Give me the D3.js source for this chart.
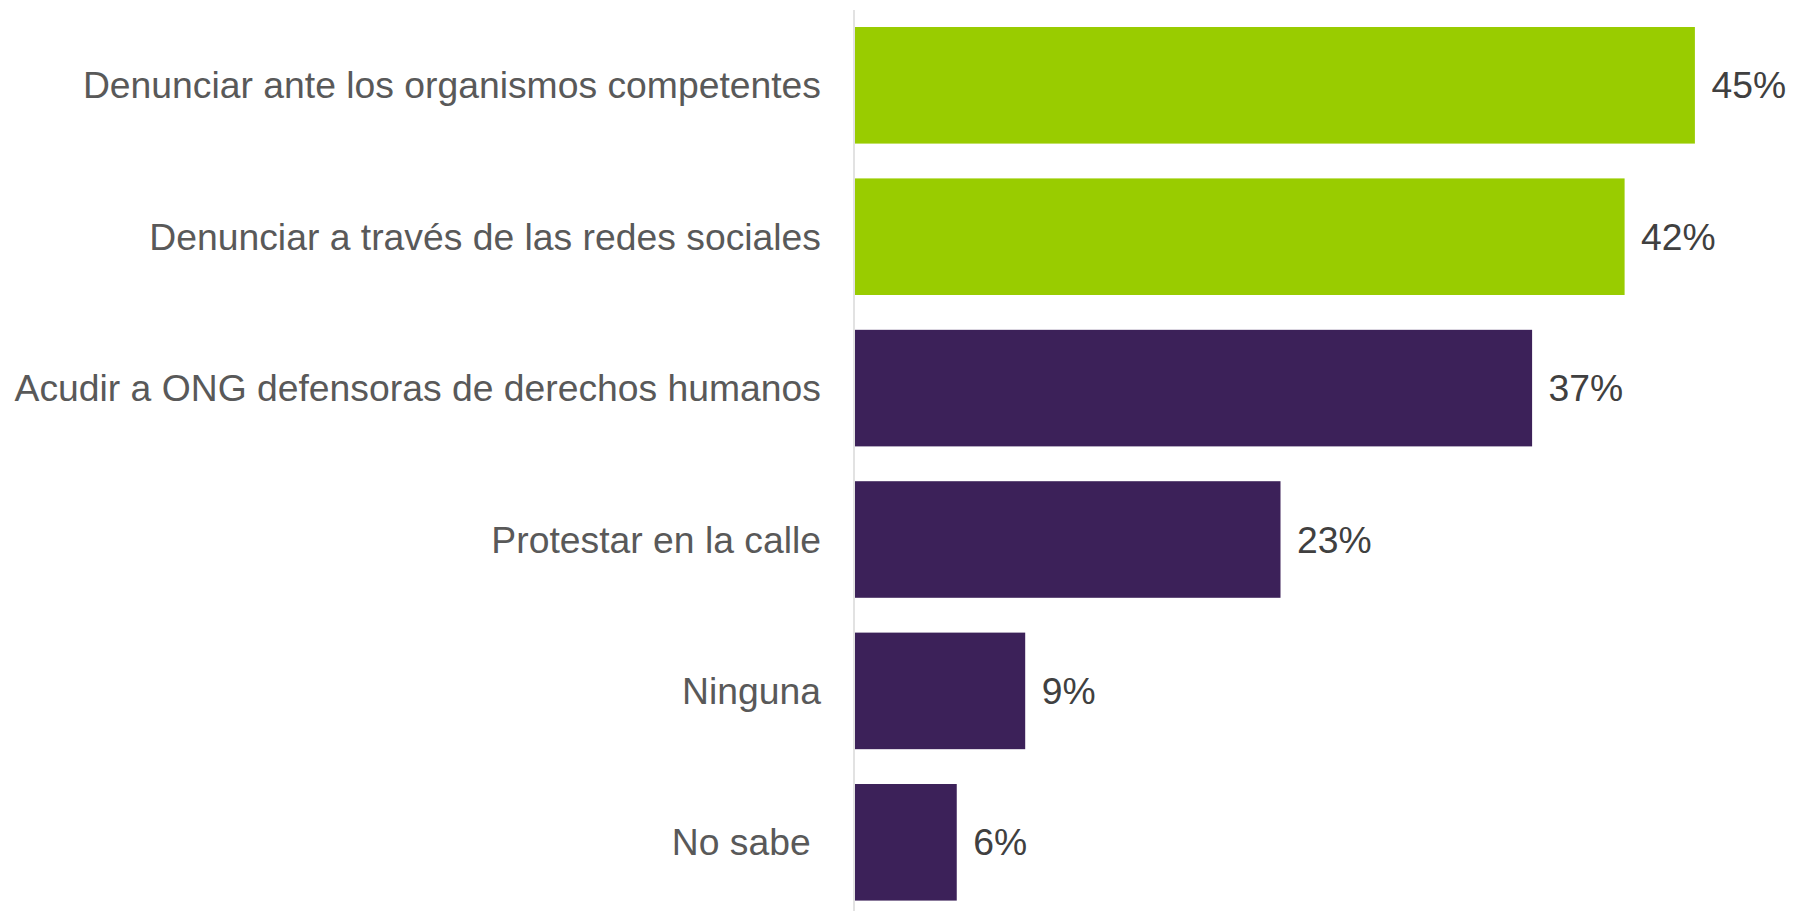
<!DOCTYPE html>
<html>
<head>
<meta charset="utf-8">
<script src="https://cdn.jsdelivr.net/npm/d3@7"></script>
<style>
  html, body { margin: 0; padding: 0; background: #ffffff; }
  svg { display: block; }
</style>
</head>
<body>
<svg id="chart" width="1794" height="911"></svg>
<script>
const categories = [
  "Denunciar ante los organismos competentes",
  "Denunciar a través de las redes sociales",
  "Acudir a ONG defensoras de derechos humanos",
  "Protestar en la calle",
  "Ninguna",
  "No sabe "
];
const values = [45.4, 41.6, 36.6, 23.0, 9.2, 5.5];
const valueLabels = ["45%", "42%", "37%", "23%", "9%", "6%"];
const barColors = ["#99cc00", "#99cc00", "#3c2159", "#3c2159", "#3c2159", "#3c2159"];

const data = categories.map((c, i) => ({ cat: c, val: values[i], label: valueLabels[i], color: barColors[i] }));

const svg = d3.select("#chart");

const x = d3.scaleLinear().domain([0, 50]).range([855, 1780]);
const y = d3.scaleBand().domain(categories).range([9.6, 918]).paddingInner(0.23).paddingOuter(0.115);

// bars
svg.append("g").selectAll("rect")
  .data(data)
  .join("rect")
  .attr("x", x(0))
  .attr("y", d => y(d.cat))
  .attr("width", d => x(d.val) - x(0))
  .attr("height", y.bandwidth())
  .attr("fill", d => d.color);

// vertical axis line
svg.append("line")
  .attr("x1", 854).attr("x2", 854)
  .attr("y1", 10).attr("y2", 911)
  .attr("stroke", "#d9d9d9")
  .attr("stroke-width", 1.5);

// category labels
svg.append("g").selectAll("text")
  .data(data)
  .join("text")
  .attr("x", 821)
  .attr("y", d => y(d.cat) + y.bandwidth() / 2)
  .attr("dy", "0.35em")
  .attr("text-anchor", "end")
  .style("white-space", "pre")
  .attr("font-family", "'Liberation Sans', Arial, sans-serif")
  .attr("font-size", 37.3)
  .attr("fill", "#595959")
  .text(d => d.cat);

// value labels
svg.append("g").selectAll("text")
  .data(data)
  .join("text")
  .attr("x", d => x(d.val) + 16.5)
  .attr("y", d => y(d.cat) + y.bandwidth() / 2)
  .attr("dy", "0.35em")
  .attr("text-anchor", "start")
  .attr("font-family", "'Liberation Sans', Arial, sans-serif")
  .attr("font-size", 37.3)
  .attr("fill", "#404040")
  .text(d => d.label);
</script>
</body>
</html>
